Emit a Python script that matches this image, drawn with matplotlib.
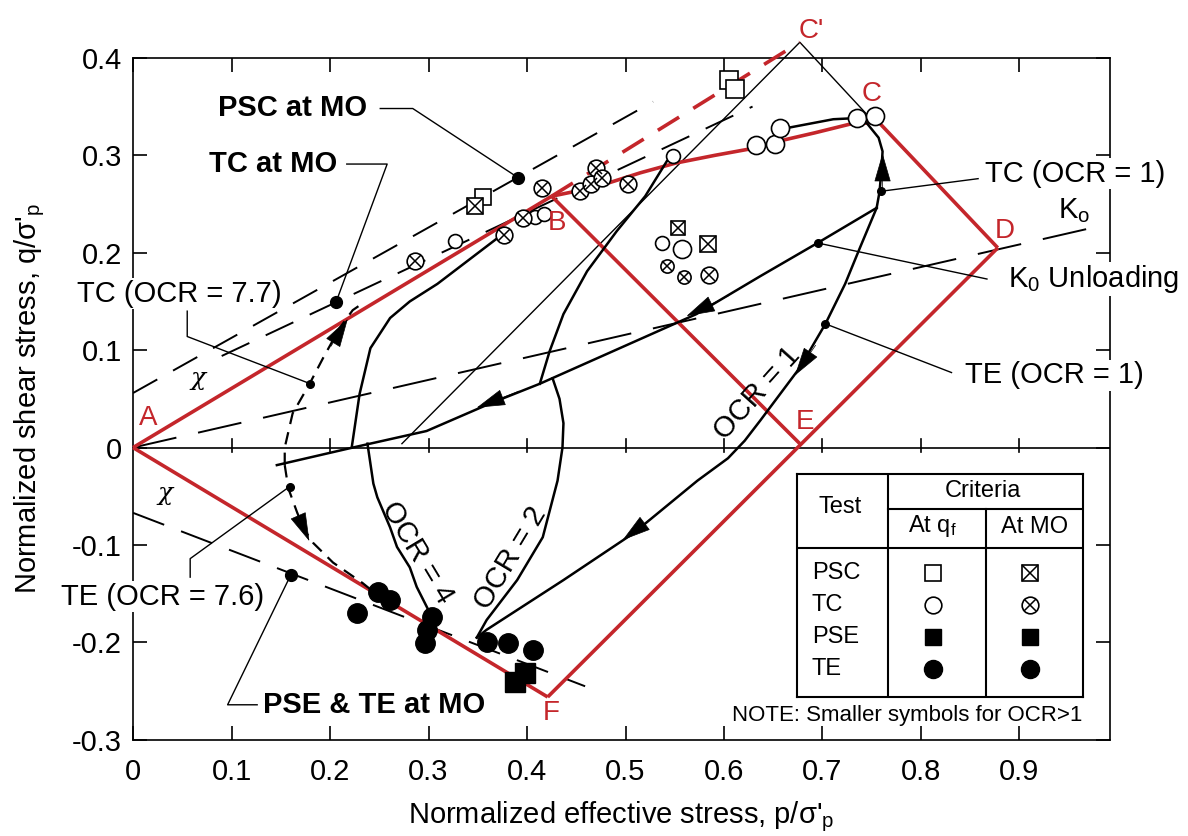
import numpy as np
import matplotlib.pyplot as plt

plt.rcParams['font.family'] = ['Liberation Sans', 'DejaVu Sans']
plt.rcParams['mathtext.fontset'] = 'custom'
plt.rcParams['mathtext.rm'] = 'Liberation Sans'
plt.rcParams['mathtext.it'] = 'Liberation Sans:italic'
plt.rcParams['axes.unicode_minus'] = False
plt.rcParams['lines.scale_dashes'] = False

RED = '#c4262b'

# failure envelope corners (p/sigma'p, q/sigma'p)
A = (0.0, 0.0)
B = (0.425, 0.258)
C = (0.757, 0.334)
C_PRIME = (0.677, 0.416)
D = (0.878, 0.205)
E = (0.677, 0.004)
F = (0.421, -0.256)

# red envelope between B and C
bc_p = [0.425, 0.454, 0.484, 0.515, 0.551, 0.591, 0.629, 0.662, 0.692, 0.728, 0.757]
bc_q = [0.258, 0.264, 0.272, 0.282, 0.292, 0.300, 0.307, 0.316, 0.323, 0.332, 0.334]

# K0 line and MO envelopes
k0_p = [0.0, 0.98]
k0_q = [0.0, 0.227]
psc_mo_p = [0.0, 0.528]
psc_mo_q = [0.056, 0.355]
tc_mo_p = [0.09, 0.629]
tc_mo_q = [0.094, 0.350]
te_mo_p = [0.0, 0.459]
te_mo_q = [-0.067, -0.245]

# stress paths
unload_p = [0.755, 0.695, 0.637, 0.572, 0.413, 0.362, 0.298, 0.223, 0.146]
unload_q = [0.246, 0.210, 0.176, 0.137, 0.0655, 0.045, 0.017, 0.0, -0.018]

tc1_p = [0.755, 0.758, 0.760, 0.761, 0.757, 0.745, 0.731, 0.711, 0.664]
tc1_q = [0.246, 0.263, 0.287, 0.304, 0.318, 0.333, 0.338, 0.337, 0.328]
te1_p = [0.755, 0.738, 0.723, 0.703, 0.677, 0.637, 0.621, 0.604, 0.573, 0.508, 0.437, 0.359, 0.349]
te1_q = [0.246, 0.205, 0.168, 0.127, 0.082, 0.028, 0.007, -0.011, -0.034, -0.088, -0.136, -0.187, -0.195]

tc2_p = [0.413, 0.423, 0.437, 0.461, 0.491, 0.520, 0.542]
tc2_q = [0.0655, 0.099, 0.137, 0.181, 0.222, 0.258, 0.294]
te2_p = [0.426, 0.433, 0.437, 0.436, 0.431, 0.416, 0.390, 0.359, 0.349]
te2_q = [0.071, 0.050, 0.025, 0.0, -0.034, -0.092, -0.136, -0.177, -0.195]

tc4_p = [0.222, 0.230, 0.241, 0.261, 0.281, 0.309, 0.370]
tc4_q = [0.0, 0.055, 0.102, 0.133, 0.150, 0.168, 0.215]
te4_p = [0.238, 0.244, 0.248, 0.261, 0.268, 0.281, 0.288, 0.302]
te4_q = [0.004, -0.037, -0.051, -0.082, -0.102, -0.123, -0.143, -0.171]

tc77_p = [0.154, 0.154, 0.162, 0.179, 0.193, 0.210, 0.223, 0.233]
tc77_q = [-0.018, 0.0, 0.035, 0.065, 0.092, 0.123, 0.141, 0.148]
te76_p = [0.154, 0.156, 0.157, 0.166, 0.173, 0.183, 0.203, 0.233, 0.244]
te76_q = [-0.018, -0.031, -0.040, -0.065, -0.083, -0.098, -0.118, -0.139, -0.148]

# measured points
tc_qf_big_p = [0.735, 0.753, 0.633, 0.652, 0.657, 0.557]
tc_qf_big_q = [0.338, 0.340, 0.311, 0.312, 0.328, 0.204]
tc_qf_small_p = [0.548, 0.327, 0.408, 0.417, 0.537]
tc_qf_small_q = [0.299, 0.212, 0.237, 0.240, 0.210]
tc_mo_big_p = [0.286, 0.377, 0.396, 0.415, 0.454, 0.465, 0.470, 0.476, 0.503, 0.585]
tc_mo_big_q = [0.191, 0.218, 0.236, 0.266, 0.263, 0.271, 0.287, 0.277, 0.271, 0.177]
tc_mo_small_p = [0.542, 0.559]
tc_mo_small_q = [0.186, 0.175]
psc_qf_p = [0.605, 0.611, 0.355]
psc_qf_q = [0.377, 0.368, 0.257]
psc_mo_big_p = [0.347, 0.584]
psc_mo_big_q = [0.248, 0.209]
psc_mo_small_p = [0.553]
psc_mo_small_q = [0.225]
pse_p = [0.388, 0.398]
pse_q = [-0.241, -0.231]
te_p = [0.249, 0.261, 0.227, 0.304, 0.298, 0.296, 0.359, 0.381, 0.406]
te_q = [-0.148, -0.156, -0.170, -0.174, -0.187, -0.201, -0.200, -0.201, -0.208]

x_ticks = [0, 0.1, 0.2, 0.3, 0.4, 0.5, 0.6, 0.7, 0.8, 0.9]
x_labels = ['0', '0.1', '0.2', '0.3', '0.4', '0.5', '0.6', '0.7', '0.8', '0.9']
y_ticks = [-0.3, -0.2, -0.1, 0, 0.1, 0.2, 0.3, 0.4]
y_labels = ['-0.3', '-0.2', '-0.1', '0', '0.1', '0.2', '0.3', '0.4']

FS = 21
TICK_FONT = ['Liberation Sans Narrow', 'Liberation Sans']


def open_pts(ax, p, q, marker, ms):
    ax.plot(p, q, marker, ms=ms, mfc='white', mec='k', mew=1.2, ls='none', zorder=6, clip_on=False)


def crossed_pts(ax, p, q, marker, ms):
    open_pts(ax, p, q, marker, ms)
    xs = ms * 0.72 if marker == 'o' else ms
    ax.plot(p, q, 'x', ms=xs, mec='k', mew=1.1, ls='none', zorder=7, clip_on=False)


def solid_pts(ax, p, q, marker, ms):
    ax.plot(p, q, marker, ms=ms, mfc='k', mec='k', ls='none', zorder=6, clip_on=False)


def head(ax, tail, tip):
    ax.annotate('', xy=tip, xytext=tail,
                arrowprops=dict(arrowstyle='-|>,head_length=1.9,head_width=0.55',
                                color='k', lw=0.5, shrinkA=0, shrinkB=0),
                zorder=5)


fig = plt.figure(figsize=(11.88, 8.36), dpi=100)
ax = fig.add_axes([0.112, 0.115, 0.8224, 0.8158])
ax.set_xlim(0, 0.992)
ax.set_ylim(-0.3, 0.4)

# red envelope
red = dict(color=RED, lw=2.6, solid_capstyle='butt', zorder=3, clip_on=False)
ax.plot([A[0], B[0]], [A[1], B[1]], **red)
ax.plot([B[0], E[0]], [B[1], E[1]], **red)
ax.plot(bc_p, bc_q, **red)
ax.plot([C[0], D[0]], [C[1], D[1]], **red)
ax.plot([D[0], F[0]], [D[1], F[1]], **red)
ax.plot([F[0], A[0]], [F[1], A[1]], **red)
ax.plot([B[0], C_PRIME[0]], [B[1], C_PRIME[1]], color=RED, lw=2.6,
        dashes=(18, 12), zorder=3, clip_on=False)

# thin lines through C'
ax.plot([0.273, C_PRIME[0], 0.745], [0.004, C_PRIME[1], 0.342], color='k', lw=1.0,
        zorder=2, clip_on=False)

# zero line with its ticks
ax.axhline(0, color='k', lw=1.2, zorder=1)
for t in x_ticks[1:]:
    ax.plot([t, t], [-0.005, 0.009], color='k', lw=1.2, zorder=1)

# dashed envelopes
ax.plot(k0_p, k0_q, color='k', lw=1.4, dashes=(32, 16), zorder=2)
ax.plot(psc_mo_p, psc_mo_q, color='k', lw=1.4, dashes=(20, 13), zorder=2)
ax.plot(tc_mo_p, tc_mo_q, color='k', lw=1.4, dashes=(22, 13), zorder=2)
ax.plot(te_mo_p, te_mo_q, color='k', lw=1.4, dashes=(24, 13), zorder=2)

# stress paths
sp = dict(color='k', lw=1.8, zorder=4)
ax.plot(unload_p, unload_q, **sp)
ax.plot(tc1_p, tc1_q, **sp)
ax.plot(te1_p, te1_q, **sp)
ax.plot(tc2_p, tc2_q, **sp)
ax.plot(te2_p, te2_q, **sp)
ax.plot(tc4_p, tc4_q, **sp)
ax.plot(te4_p, te4_q, **sp)
ax.plot(tc77_p, tc77_q, color='k', lw=1.6, dashes=(9, 6), zorder=4)
ax.plot(te76_p, te76_q, color='k', lw=1.6, dashes=(9, 6), zorder=4)

# arrow heads
head(ax, (0.761, 0.265), (0.761, 0.302))
head(ax, (0.605, 0.156), (0.562, 0.135))
head(ax, (0.392, 0.058), (0.349, 0.041))
head(ax, (0.693, 0.105), (0.672, 0.074))
head(ax, (0.535, -0.066), (0.497, -0.095))
head(ax, (0.201, 0.104), (0.218, 0.132))
head(ax, (0.166, -0.066), (0.179, -0.096))

# data points
open_pts(ax, tc_qf_big_p, tc_qf_big_q, 'o', 13)
open_pts(ax, tc_qf_small_p, tc_qf_small_q, 'o', 10)
crossed_pts(ax, tc_mo_big_p, tc_mo_big_q, 'o', 12)
crossed_pts(ax, tc_mo_small_p, tc_mo_small_q, 'o', 9.5)
open_pts(ax, psc_qf_p[:2], psc_qf_q[:2], 's', 13)
open_pts(ax, psc_qf_p[2:], psc_qf_q[2:], 's', 11)
crossed_pts(ax, psc_mo_big_p, psc_mo_big_q, 's', 12)
crossed_pts(ax, psc_mo_small_p, psc_mo_small_q, 's', 10)
solid_pts(ax, pse_p, pse_q, 's', 14)
solid_pts(ax, te_p, te_q, 'o', 14)

# leader dots and lines
solid_pts(ax, [0.759, 0.695, 0.703, 0.180, 0.159], [0.263, 0.210, 0.127, 0.0655, -0.040], 'o', 5.5)
solid_pts(ax, [0.391, 0.206, 0.160], [0.277, 0.149, -0.131], 'o', 8.5)
lead = dict(color='k', lw=1.0, zorder=5, clip_on=False)
ax.plot([0.251, 0.284, 0.391], [0.348, 0.348, 0.277], **lead)
ax.plot([0.217, 0.258, 0.206], [0.291, 0.291, 0.149], **lead)
ax.plot([0.055, 0.055, 0.180], [0.140, 0.114, 0.0655], **lead)
ax.plot([0.058, 0.058, 0.159], [-0.133, -0.114, -0.040], **lead)
ax.plot([0.126, 0.096, 0.160], [-0.264, -0.264, -0.131], **lead)
ax.plot([0.759, 0.858], [0.263, 0.276], **lead)
ax.plot([0.695, 0.867], [0.210, 0.173], **lead)
ax.plot([0.703, 0.831], [0.127, 0.077], **lead)

# labels
wbox = dict(facecolor='white', edgecolor='none', pad=1.0)
ax.text(0.162, 0.349, 'PSC at MO', fontsize=FS, fontweight='bold', ha='center', va='center', zorder=8)
ax.text(0.142, 0.291, 'TC at MO', fontsize=FS, fontweight='bold', ha='center', va='center', zorder=8)
ax.text(0.245, -0.264, 'PSE & TE at MO', fontsize=FS, fontweight='bold', ha='center', va='center', zorder=8)
ax.text(0.047, 0.158, 'TC (OCR = 7.7)', fontsize=FS, ha='center', va='center', bbox=wbox, zorder=8)
ax.text(0.030, -0.153, 'TE (OCR = 7.6)', fontsize=FS, ha='center', va='center', bbox=wbox, zorder=8)
ax.text(0.865, 0.281, 'TC (OCR = 1)', fontsize=FS, ha='left', va='center', bbox=wbox, zorder=8)
ax.text(0.888, 0.173, r'K$_\mathregular{0}$ Unloading', fontsize=FS, ha='left', va='center', bbox=wbox, zorder=8)
ax.text(0.845, 0.074, 'TE (OCR = 1)', fontsize=FS, ha='left', va='center', bbox=wbox, zorder=8)
ax.text(0.955, 0.243, r'K$_\mathregular{o}$', fontsize=FS, ha='center', va='center', zorder=8)
ax.text(0.634, 0.056, 'OCR = 1', fontsize=FS, rotation=48, ha='center', va='center',
        rotation_mode='anchor', zorder=8)
ax.text(0.288, -0.108, 'OCR = 4', fontsize=FS, rotation=-59, ha='center', va='center',
        rotation_mode='anchor', zorder=8)
ax.text(0.383, -0.113, 'OCR = 2', fontsize=FS, rotation=59, ha='center', va='center',
        rotation_mode='anchor', zorder=8)
ax.text(0.066, 0.071, 'χ', fontsize=18, family='DejaVu Serif', style='italic', ha='center', va='center')
ax.text(0.032, -0.047, 'χ', fontsize=18, family='DejaVu Serif', style='italic', ha='center', va='center')

for s, (x, y) in {'A': (0.015, 0.030), 'B': (0.430, 0.230), 'C': (0.750, 0.363),
                  "C'": (0.689, 0.428), 'D': (0.885, 0.222), 'E': (0.682, 0.026),
                  'F': (0.425, -0.272)}.items():
    ax.text(x, y, s, color=RED, fontsize=20, ha='center', va='center', zorder=8)

# axes styling
ax.set_xticks(x_ticks)
ax.set_xticklabels(x_labels, family=TICK_FONT)
ax.set_yticks(y_ticks)
ax.set_yticklabels(y_labels, family=TICK_FONT)
ax.tick_params(direction='in', top=True, right=True, length=10, width=1.2,
               labelsize=21, pad=8)
ax.tick_params(axis='x', pad=13)
for s in ax.spines.values():
    s.set_linewidth(1.2)
ax.set_xlabel("Normalized effective stress, p/σ'$_\\mathregular{p}$", fontsize=21, labelpad=10)
ax.set_ylabel("Normalized shear stress, q/σ'$_\\mathregular{p}$", fontsize=21, labelpad=18)

# criteria table
tab = fig.add_axes([797 / 1188, 1 - 697 / 836, 286 / 1188, 223 / 836])
tab.set_xlim(0, 1)
tab.set_ylim(0, 1)
tab.set_xticks([])
tab.set_yticks([])
for s in tab.spines.values():
    s.set_linewidth(1.5)
tab.plot([0.318, 0.318], [0, 1], color='k', lw=1.5)
tab.plot([0.661, 0.661], [0, 0.843], color='k', lw=1.5)
tab.plot([0.318, 1], [0.843, 0.843], color='k', lw=1.5)
tab.plot([0, 1], [0.668, 0.668], color='k', lw=1.5)
tab.text(0.150, 0.852, 'Test', fontsize=17, ha='center', va='center')
tab.text(0.650, 0.924, 'Criteria', fontsize=17, ha='center', va='center')
tab.text(0.475, 0.765, r'At q$_\mathregular{f}$', fontsize=17, ha='center', va='center')
tab.text(0.832, 0.762, 'At MO', fontsize=17, ha='center', va='center')
rows_y = [0.556, 0.413, 0.269, 0.126]
for name, y in zip(['PSC', 'TC', 'PSE', 'TE'], rows_y):
    tab.text(0.052, y, name, fontsize=17, ha='left', va='center')
cq, cm = 0.476, 0.815
open_pts(tab, [cq], [rows_y[0]], 's', 12)
crossed_pts(tab, [cm], [rows_y[0]], 's', 12)
open_pts(tab, [cq], [rows_y[1]], 'o', 12)
crossed_pts(tab, [cm], [rows_y[1]], 'o', 12)
solid_pts(tab, [cq, cm], [rows_y[2]] * 2, 's', 12)
solid_pts(tab, [cq, cm], [rows_y[3]] * 2, 'o', 13)
fig.text(907 / 1188, 1 - 715 / 836, 'NOTE: Smaller symbols for OCR>1', fontsize=16,
         ha='center', va='center')

fig.savefig('out.png', dpi=100)
